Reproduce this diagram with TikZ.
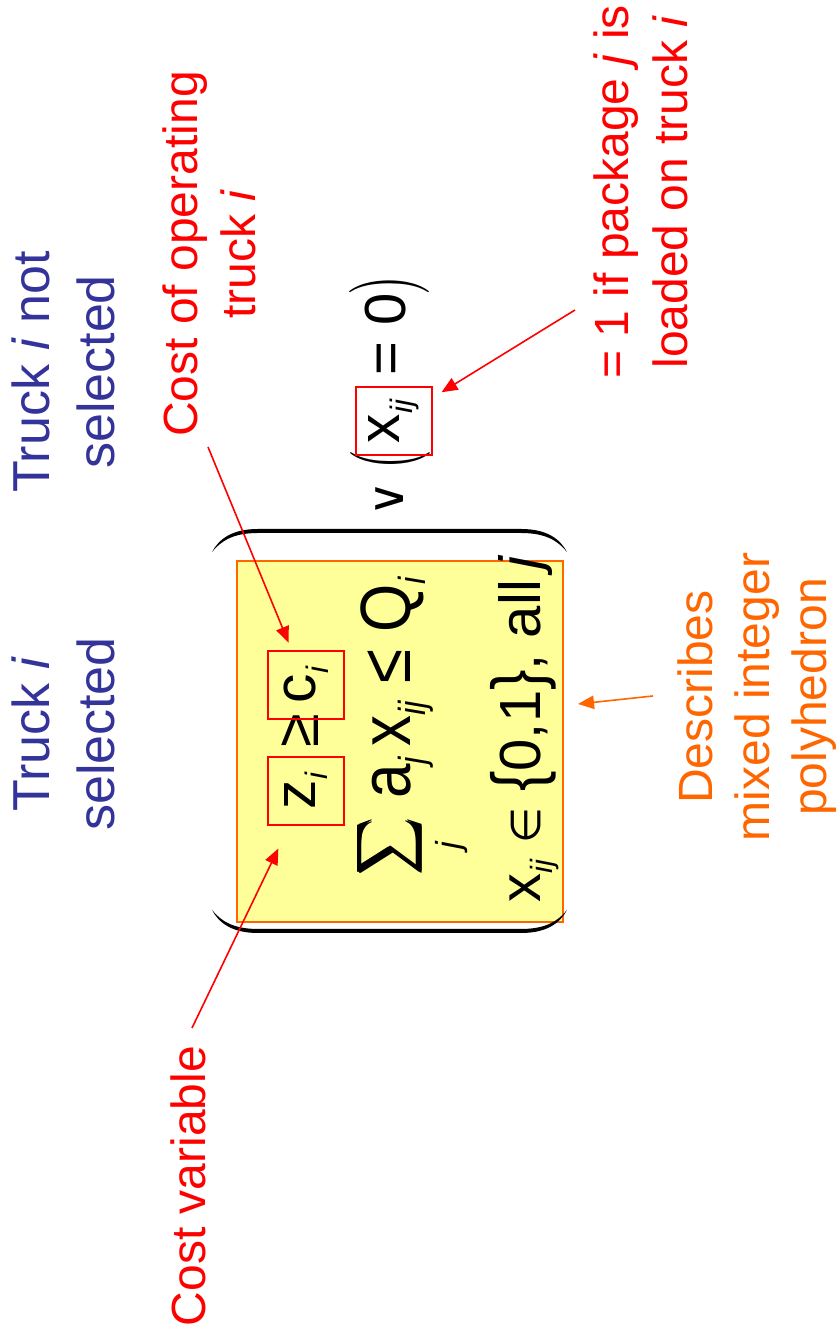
\documentclass[tikz,border=0pt]{standalone}
\usepackage{fontspec}
\usepackage{amsmath}
\setmainfont{Liberation Sans}
\newfontfamily\symfont{DejaVu Sans}
\usetikzlibrary{arrows.meta}
\definecolor{navyb}{HTML}{333399}
\definecolor{orc}{HTML}{FF6600}
\definecolor{yelf}{HTML}{FFFF99}
\newcommand\subx[1]{\raisebox{-0.22em}{\scalebox{0.53}{\itshape #1}}}
\newcommand\bigbr[1]{\raisebox{-0.03em}{\scalebox{1}[1.15]{\fontsize{46}{56}\selectfont#1}}}
\tikzset{
  bluelab/.style={text=navyb, align=center, inner sep=0, anchor=north, font=\fontsize{39}{48.75}\selectfont},
  redlab/.style={text=red, align=center, inner sep=0, anchor=north, font=\fontsize{36}{43.5}\selectfont},
  orlab/.style={text=orc, align=center, inner sep=0, anchor=north, font=\fontsize{36}{43.1}\selectfont},
  redbox/.style={draw=red, line width=1.5pt, minimum width=51pt, minimum height=57pt, inner sep=0, font=\fontsize{44}{52}\selectfont},
  arr/.style={-{Triangle[length=12pt,width=10pt]}, line width=1.2pt},
  mathrow/.style={anchor=base west, inner sep=0},
  bigparen/.style={fill=black}
}
\begin{document}
\begin{tikzpicture}
\begin{scope}[x=0.75pt,y=-0.75pt,rotate=90,transform shape]
\fill[white] (0,0) rectangle (1333,835);
\useasboundingbox (0,0) rectangle (1333,835);
% yellow polyhedron box
\node[draw=orc, fill=yelf, line width=1.1pt, minimum width=270.75pt, minimum height=244.5pt, inner sep=0] (poly) at (591.5,400) {};
% big parentheses
\fill[bigparen] (423,212) .. controls (410,219) and (400,232) .. (400,258) -- (400,521) .. controls (400,547) and (410,560) .. (423,567)
  .. controls (412,558) and (404,546) .. (404,521) -- (404,258) .. controls (404,233) and (412,221) .. (423,212) -- cycle;
\fill[bigparen] (781,212) .. controls (794,219) and (804,232) .. (804,258) -- (804,521) .. controls (804,547) and (794,560) .. (781,567)
  .. controls (792,558) and (800,546) .. (800,521) -- (800,258) .. controls (800,233) and (792,221) .. (781,212) -- cycle;
% row 1
\node[redbox] (zb) at (542,306) {z\subx{i}};
\node[anchor=base, inner sep=0, font=\fontsize{46}{52}\selectfont] (geq) at (602,318) {≥};
\node[redbox] (cb) at (648,306) {c\subx{i}};
% row 2
\node[inner sep=0] (sum) at (487,390) {\resizebox*{42pt}{55pt}{\pmb{$\displaystyle\sum$}}};
\node[anchor=base, inner sep=0, font=\fontsize{26}{30}\selectfont\itshape] (sumj) at (487,460) {j};
\node[mathrow, font=\fontsize{46.5}{56}\selectfont] (row2) at (534,410) {\scalebox{1}[1.15]{a\subx{j}\,x\subx{ij} ≤ Q\subx{i}}};
% row 3
\node[mathrow, font=\fontsize{43.5}{52}\selectfont] (row3) at (430,540) {x\subx{ij} {\symfont\fontsize{31}{36}\selectfont ∈} \bigbr{\{}0,1\bigbr{\}}, all\kern0.18em\textit{j}};
% disjunction
\node[inner sep=0, font=\symfont\fontsize{36}{40}\selectfont] (vee) at (834,390) {∨};
\node[inner sep=0] (lpar) at (873,390) {\scalebox{3.8}[6]{$($}};
\node[redbox] (xb) at (911.5,394) {x\subx{ij}};
\node[mathrow, font=\fontsize{43.5}{52}\selectfont] (eq0) at (957,405) {= 0};
\node[inner sep=0] (rpar) at (1047,389) {\scalebox{3.8}[6]{$)$}};
% labels
\node[bluelab] (sel) at (599,12) {Truck \textit{i}\\selected};
\node[bluelab] (notsel) at (961,12) {Truck \textit{i} not\\selected};
\node[redlab] (costop) at (1079,162) {Cost of operating\\truck \textit{i}};
\node[redlab] (costvar) at (147,170) {Cost variable};
\node[redlab, font=\fontsize{36}{44.25}\selectfont] (pkg) at (1141,593) {= 1 if package \textit{j} is\\loaded on truck \textit{i}};
\node[orlab] (desc) at (636,677) {Describes\\mixed integer\\polyhedron};
% connectors
\coordinate (cv-s) at (305,192);
\coordinate (co-s) at (886,208);
\coordinate (pk-s) at (1023,575);
\coordinate (ds-s) at (637,653);
\coordinate (ds-t) at (629,578);
\draw[arr, red, shorten >=18.75pt] (cv-s) -- (zb);
\draw[arr, red, shorten >=6pt] (co-s) -- (cb);
\draw[arr, red, shorten >=7.5pt] (pk-s) -- (xb);
\draw[arr, orc] (ds-s) -- (ds-t);
\end{scope}
\end{tikzpicture}
\end{document}
